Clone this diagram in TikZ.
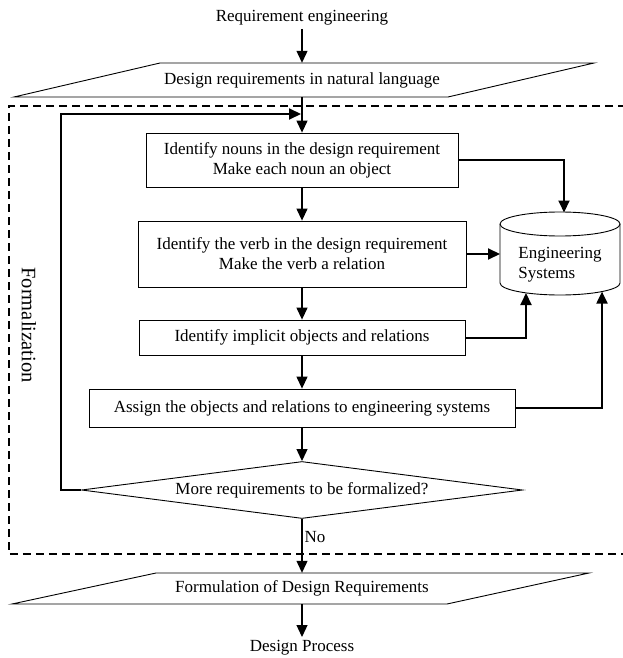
\documentclass[tikz,border=0pt]{standalone}
\usepackage{fontspec}
\setmainfont{Liberation Serif}
\usetikzlibrary{arrows.meta,shapes.geometric,calc}
\begin{document}
\begin{tikzpicture}[x=1pt,y=-1pt,
  txt/.style={font=\fontsize{17}{20}\selectfont},
  proc/.style={txt,draw,line width=0.8pt,align=center,inner sep=0pt},
  mainarrow/.style={line width=1.2pt,-{Triangle[length=12pt,width=11pt]}},
  sidearrow/.style={line width=2pt,-{Triangle[length=12pt,width=11pt]}},
  dashframe/.style={line width=2.2pt,dash pattern=on 8pt off 5pt},
  outline/.style={line width=0.9pt}
]
\useasboundingbox (0,0) rectangle (623,658);

% dashed formalization frame
\draw[dashframe] (626,106) -- (9,106) -- (9,554) -- (626,554);
\node[font=\fontsize{20.5}{24}\selectfont, rotate=-90] (fm) at (29,325) {Formalization};

% top
\node[txt] (re) at (302,18) {Requirement engineering};
\draw[outline] (160,63) -- (594,63) -- (448,97) -- (14,97) -- cycle;
\node[txt,minimum height=34pt,inner sep=0pt] (p1) at (302,80) {Design requirements in natural language};

% process boxes
\node[proc,minimum width=312pt,minimum height=54pt] (b1) at (302,160) {Identify nouns in the design requirement\\Make each noun an object};
\node[proc,minimum width=328pt,minimum height=66pt] (b2) at (302,254) {Identify the verb in the design requirement\\Make the verb a relation};
\node[proc,minimum width=326pt,minimum height=35pt] (b3) at (302,337.5) {Identify implicit objects and relations};
\node[proc,minimum width=426pt,minimum height=38pt] (b4) at (302,408) {Assign the objects and relations to engineering systems};
\node[txt,diamond,draw,outline,aspect=7.7,inner sep=0pt,minimum width=441pt,minimum height=57pt] (d) at (302,490) {More requirements to be formalized?};

% bottom
\draw[outline] (156,573) -- (589,573) -- (447,604) -- (12,604) -- cycle;
\node[txt,minimum height=31pt,inner sep=0pt] (p2) at (302,588.5) {Formulation of Design Requirements};
\node[txt] (dp) at (302,648) {Design Process};

% cylinder
\draw[outline] (500,224) -- (500,283) arc[start angle=180,end angle=360,x radius=60pt,y radius=12pt] -- (620,224);
\draw[outline] (560,224) ellipse [x radius=60pt, y radius=12pt];
\node[txt,align=left] (es) at (560,265) {Engineering\\Systems};
\coordinate (cyltop) at (564,212.5);
\coordinate (cylw) at (500,254);
\coordinate (cylb3) at (526,293);
\coordinate (cylb4) at (602,291.6);

% main flow
\draw[mainarrow] (re.south) -- (p1.north);
\draw[mainarrow] (p1.south) -- (b1.north);
\draw[mainarrow] (b1.south) -- (b2.north);
\draw[mainarrow] (b2.south) -- (b3.north);
\draw[mainarrow] (b3.south) -- (b4.north);
\draw[mainarrow] (b4.south) -- (d.north);
\draw[mainarrow] (d.south) -- node[txt,right,pos=0.33,inner sep=2pt] (no) {No} (p2.north);
\draw[mainarrow] (p2.south) -- (dp.north);

% links to engineering systems
\draw[sidearrow] (b1.east) -| (cyltop);
\draw[sidearrow] (b2.east) -- (cylw);
\draw[sidearrow] (b3.east) -| (cylb3);
\draw[sidearrow] (b4.east) -| (cylb4);

% loop back
\coordinate (lp) at (61,490);
\coordinate (lt) at (301,114);
\draw[sidearrow] (d.west) -- (lp) |- (lt);
\end{tikzpicture}
\end{document}
